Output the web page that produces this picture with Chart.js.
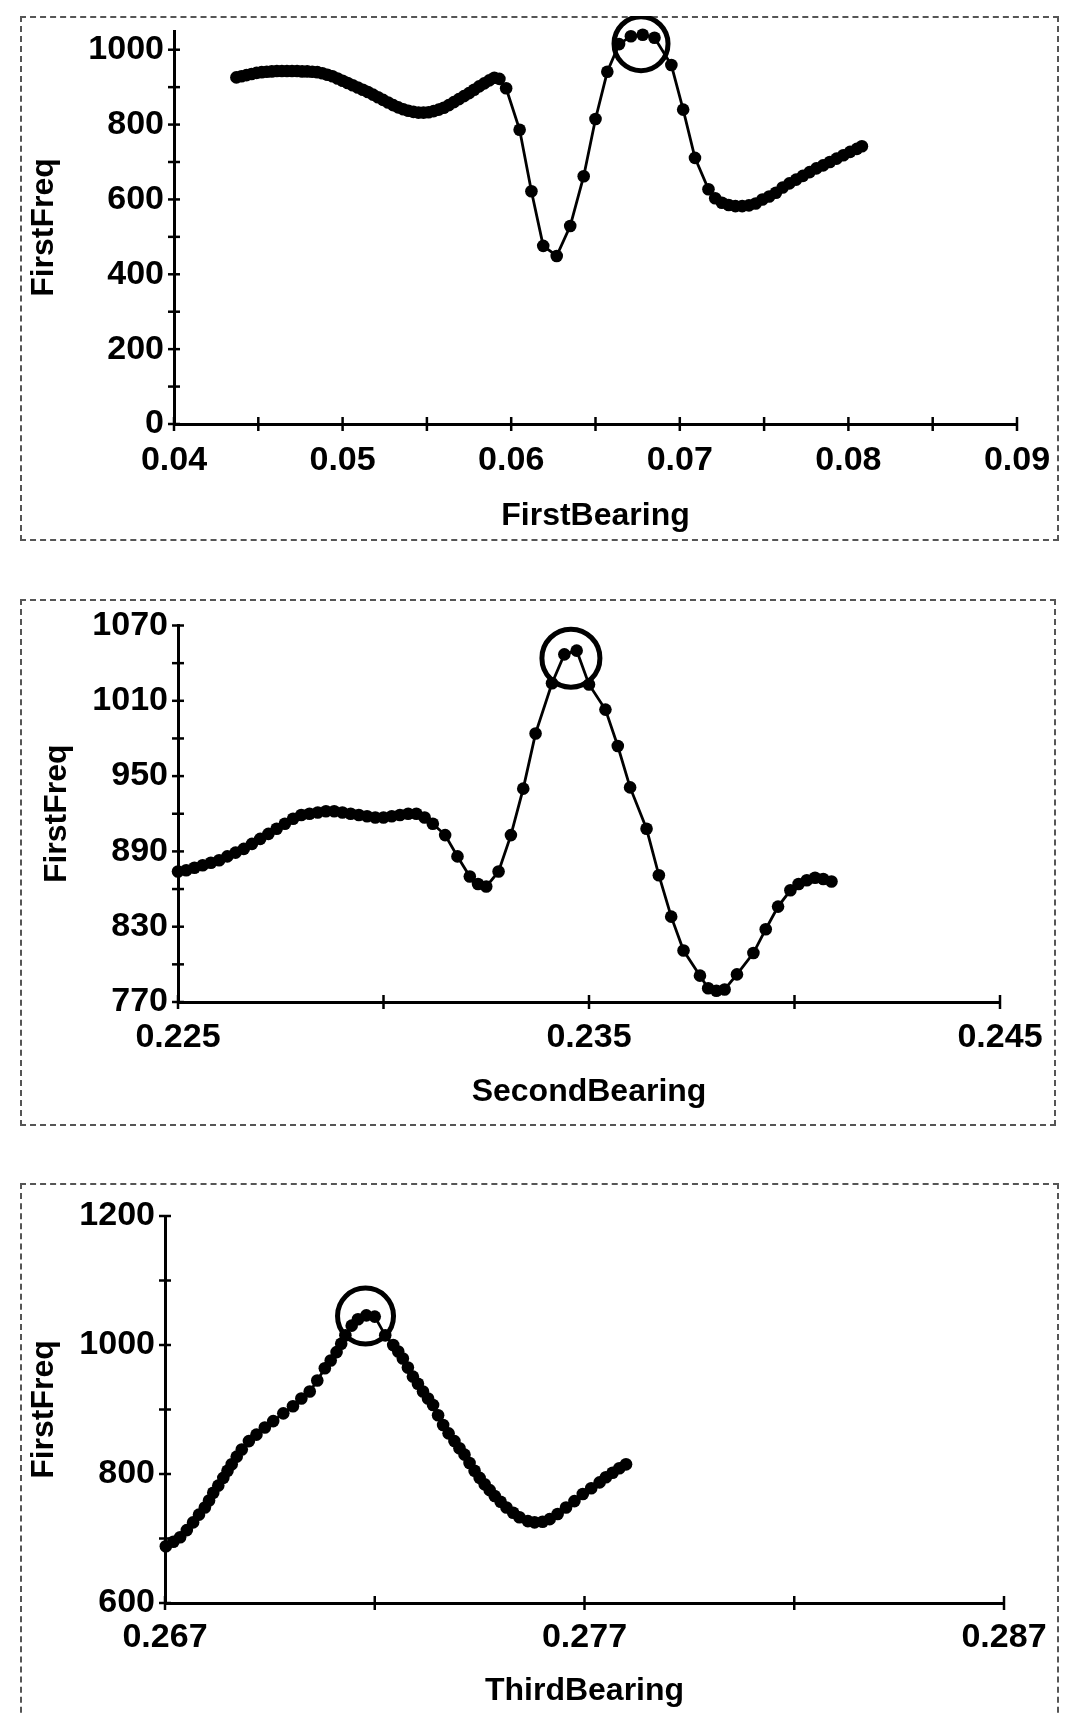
<!DOCTYPE html>
<html><head><meta charset="utf-8">
<script src="https://cdn.jsdelivr.net/npm/chart.js@4.4.1/dist/chart.umd.min.js"></script>
<style>
html,body{margin:0;padding:0;background:#fff;width:1075px;height:1715px;overflow:hidden;}
.frame{position:absolute;border:2px dashed #555;box-sizing:border-box;}
canvas{position:absolute;}
</style></head><body>
<div class="frame" style="left:20px;top:16px;width:1039px;height:525px"></div>
<div class="frame" style="left:20px;top:599px;width:1036px;height:527px"></div>
<div class="frame" style="left:20px;top:1183px;width:1039px;height:560px"></div>
<canvas id="c1" width="1039" height="525" style="left:20px;top:16px"></canvas>
<canvas id="c2" width="1036" height="527" style="left:20px;top:599px"></canvas>
<canvas id="c3" width="1039" height="532" style="left:20px;top:1183px"></canvas>
<script>
// ---------- Chart 1: FirstBearing vs FirstFreq ----------
const bearing1 = [0.0437,0.0440,0.0443,0.0446,0.0449,0.0452,0.0455,0.0458,0.0461,0.0464,0.0467,0.0470,0.0473,0.0476,0.0479,0.0482,0.0485,0.0488,0.0491,0.0494,0.0497,0.0500,0.0503,0.0506,0.0509,0.0512,0.0515,0.0518,0.0521,0.0524,0.0527,0.0530,0.0533,0.0536,0.0539,0.0542,0.0545,0.0548,0.0551,0.0554,0.0557,0.0560,0.0563,0.0566,0.0569,0.0572,0.0575,0.0578,0.0581,0.0584,0.0587,0.0590,0.0593,0.0597,
  0.0605,0.0612,0.0619,0.0627,0.0635,0.0643,0.0650,0.0657,0.0664,0.0671,0.0678,0.0685,0.0695,0.0702,0.0709,0.0717,
  0.0721,0.0725,0.0729,0.0733,0.0737,0.0741,0.0745,0.0749,0.0753,0.0757,0.0761,0.0765,0.0769,0.0773,0.0777,0.0781,0.0785,0.0789,0.0793,0.0797,0.0801,0.0805,0.0808];
const freq1 = [926,929,932,935,938,940,941,942,943,943,943,943,943,942,942,941,940,937,933,929,923,917,911,905,899,893,887,880,873,866,859,852,846,841,837,834,832,832,833,836,840,845,852,860,868,876,884,893,902,910,918,925,922,897,
  786,622,476,449,529,662,815,941,1015,1036,1040,1032,959,840,711,627,
  603,591,585,582,582,584,589,600,608,618,632,643,653,663,673,683,691,700,709,718,727,735,742];
const peak1 = [{x:0.0677, y:1016}];
const xTicks1 = [0.04,0.045,0.05,0.055,0.06,0.065,0.07,0.075,0.08,0.085,0.09];
const xLabels1 = [0.04,0.05,0.06,0.07,0.08,0.09];
const yTicks1 = [0,100,200,300,400,500,600,700,800,900,1000];
const yLabels1 = [0,200,400,600,800,1000];

// ---------- Chart 2: SecondBearing vs FirstFreq ----------
const bearing2 = [0.2250,0.2252,0.2254,0.2256,0.2258,0.2260,0.2262,0.2264,0.2266,0.2268,0.2270,0.2272,0.2274,0.2276,0.2278,0.2280,0.2282,0.2284,0.2286,0.2288,0.2290,0.2292,0.2294,0.2296,0.2298,0.2300,0.2302,0.2304,0.2306,0.2308,0.2310,0.2312,
  0.2315,0.2318,0.2321,0.2323,0.2325,0.2328,0.2331,0.2334,0.2337,0.2341,0.2344,0.2347,0.2350,0.2354,0.2357,0.2360,0.2364,0.2367,0.2370,0.2373,0.2377,
  0.2379,0.2381,0.2383,0.2386,0.2390,0.2393,0.2396,0.2399,0.2401,0.2403,0.2405,0.2407,0.2409];
const freq2 = [874,875,877,879,881,883,886,889,892,896,900,904,908,912,916,919,920,921,922,922,921,920,919,918,917,917,918,919,920,920,917,912,
  903,886,870,864,862,874,903,940,984,1024,1047,1050,1023,1003,974,941,908,871,838,811,791,
  781,779,780,792,809,828,846,859,864,867,869,868,866];
const peak2 = [{x:0.23456, y:1044}];
const xTicks2 = [0.225,0.230,0.235,0.240,0.245];
const xLabels2 = [0.225,0.235,0.245];
const yTicks2 = [770,800,830,860,890,920,950,980,1010,1040,1070];
const yLabels2 = [770,830,890,950,1010,1070];

// ---------- Chart 3: ThirdBearing vs FirstFreq ----------
const bearing3 = [0.26702,0.26720,0.26736,0.26752,0.26767,0.26781,0.26795,0.26805,0.26815,0.26827,0.26839,0.26849,0.26859,0.26871,0.26883,0.26900,0.26918,0.26938,0.26958,0.26982,0.27005,0.27025,0.27045,0.27063,0.27081,0.27095,0.27109,0.27120,0.27130,0.27145,0.27160,0.27180,0.27200,
  0.27225,0.27244,0.27256,0.27267,0.27279,0.27291,0.27303,0.27315,0.27327,0.27339,0.27351,0.27363,0.27376,0.27390,0.27402,0.27414,0.27426,0.27438,0.27450,0.27462,0.27474,0.27486,0.27500,0.27514,0.27530,0.27545,0.27565,0.27581,0.27600,0.27617,0.27636,0.27656,0.27676,0.27696,0.27716,0.27736,0.27751,0.27767,0.27783,0.27799];
const freq3 = [688,695,702,713,725,737,748,759,771,782,794,805,815,827,838,851,861,872,882,894,905,917,928,945,964,976,989,1002,1015,1030,1040,1046,1044,
  1015,1000,990,979,965,951,940,928,917,907,891,876,863,851,840,830,817,805,794,784,775,766,757,748,740,733,727,725,726,730,738,748,758,769,778,787,795,802,809,815];
const peak3 = [{x:0.27178, y:1045}];
const xTicks3 = [0.267,0.272,0.277,0.282,0.287];
const xLabels3 = [0.267,0.277,0.287];
const yTicks3 = [600,700,800,900,1000,1100,1200];
const yLabels3 = [600,800,1000,1200];

const FAM = '"Liberation Sans", Arial, Helvetica, sans-serif';

const crossTicks = {
  id: 'crossTicks',
  afterDraw(chart) {
    const ctx = chart.ctx;
    ctx.save();
    ctx.strokeStyle = '#000';
    ctx.lineWidth = 2.5;
    Object.values(chart.scales).forEach(s => {
      s.ticks.forEach(t => {
        ctx.beginPath();
        if (s.isHorizontal()) {
          const px = s.getPixelForValue(t.value);
          ctx.moveTo(px, s.top - 7); ctx.lineTo(px, s.top + 7);
        } else {
          const py = s.getPixelForValue(t.value);
          ctx.moveTo(s.right - 6, py); ctx.lineTo(s.right + 6, py);
        }
        ctx.stroke();
      });
    });
    ctx.restore();
  }
};

function has(list, v) { return list.some(l => Math.abs(l - v) < 1e-9); }

function makeChart(id, xs, ys, peak, peakR, cfg) {
  const pts = xs.map((x, i) => ({x: x, y: ys[i]}));
  new Chart(document.getElementById(id), {
    type: 'scatter',
    data: {
      datasets: [
        {
          data: pts, showLine: true, tension: 0, clip: false,
          borderColor: '#000', borderWidth: 2.8,
          pointRadius: 6.3, pointBackgroundColor: '#000', pointBorderColor: '#000', pointBorderWidth: 0,
          pointStyle: 'circle'
        },
        {
          data: peak, showLine: false, clip: false,
          pointRadius: peakR, pointBackgroundColor: 'rgba(0,0,0,0)', pointBorderColor: '#000', pointBorderWidth: 5
        }
      ]
    },
    options: {
      responsive: false, animation: false, devicePixelRatio: 1,
      layout: { autoPadding: false, padding: { top: cfg.padTop, right: cfg.padRight, left: 0, bottom: 0 } },
      plugins: { legend: { display: false }, tooltip: { enabled: false } },
      scales: {
        x: {
          type: 'linear', min: cfg.xMin, max: cfg.xMax,
          grid: { display: true, drawOnChartArea: false, drawTicks: false },
          border: { display: true, color: '#000', width: 3 },
          afterBuildTicks: s => { s.ticks = cfg.xTicks.map(v => ({value: v})); },
          afterFit: s => { s.height = cfg.xH; s.paddingLeft = 0; s.paddingRight = 0; s.paddingTop = 0; s.paddingBottom = 0; },
          ticks: {
            autoSkip: false, maxRotation: 0, minRotation: 0, padding: cfg.xTickPad, color: '#000',
            font: { family: FAM, size: 34, weight: 'bold' },
            callback: v => has(cfg.xLabels, v) ? v.toFixed(cfg.xDec) : ''
          },
          title: { display: true, text: cfg.xTitle, color: '#000', padding: { top: 0, bottom: cfg.xTitlePad },
                   font: { family: FAM, size: 32, weight: 'bold' } }
        },
        y: {
          type: 'linear', min: cfg.yMin, max: cfg.yMax,
          grid: { display: true, drawOnChartArea: false, drawTicks: false },
          border: { display: true, color: '#000', width: 3 },
          afterBuildTicks: s => { s.ticks = cfg.yTicks.map(v => ({value: v})); },
          afterFit: s => { s.width = cfg.yW; s.paddingLeft = 0; s.paddingRight = 0; s.paddingTop = 0; s.paddingBottom = 0; },
          ticks: {
            autoSkip: false, padding: 10, color: '#000',
            font: { family: FAM, size: 34, weight: 'bold' },
            callback: v => has(cfg.yLabels, v) ? String(v) : ''
          },
          title: { display: true, text: 'FirstFreq', color: '#000', padding: { top: cfg.yTitlePad, bottom: 0 },
                   font: { family: FAM, size: 32, weight: 'bold' } }
        }
      }
    },
    plugins: [crossTicks]
  });
}

makeChart('c1', bearing1, freq1, peak1, 27, {
  xMin: 0.04, xMax: 0.09, yMin: 0, yMax: 1050,
  xTicks: xTicks1, xLabels: xLabels1, yTicks: yTicks1, yLabels: yLabels1, xDec: 2,
  xTitle: 'FirstBearing', padTop: 15, padRight: 42, yW: 154, xH: 117,
  xTickPad: 16, xTitlePad: 6, yTitlePad: 5
});
makeChart('c2', bearing2, freq2, peak2, 29, {
  xMin: 0.225, xMax: 0.245, yMin: 770, yMax: 1070,
  xTicks: xTicks2, xLabels: xLabels2, yTicks: yTicks2, yLabels: yLabels2, xDec: 3,
  xTitle: 'SecondBearing', padTop: 26.5, padRight: 56, yW: 158, xH: 124,
  xTickPad: 15.5, xTitlePad: 15, yTitlePad: 18
});
makeChart('c3', bearing3, freq3, peak3, 28, {
  xMin: 0.267, xMax: 0.287, yMin: 600, yMax: 1200,
  xTicks: xTicks3, xLabels: xLabels3, yTicks: yTicks3, yLabels: yLabels3, xDec: 3,
  xTitle: 'ThirdBearing', padTop: 33, padRight: 55, yW: 145, xH: 112,
  xTickPad: 14, xTitlePad: 5, yTitlePad: 5
});
</script>
</body></html>
